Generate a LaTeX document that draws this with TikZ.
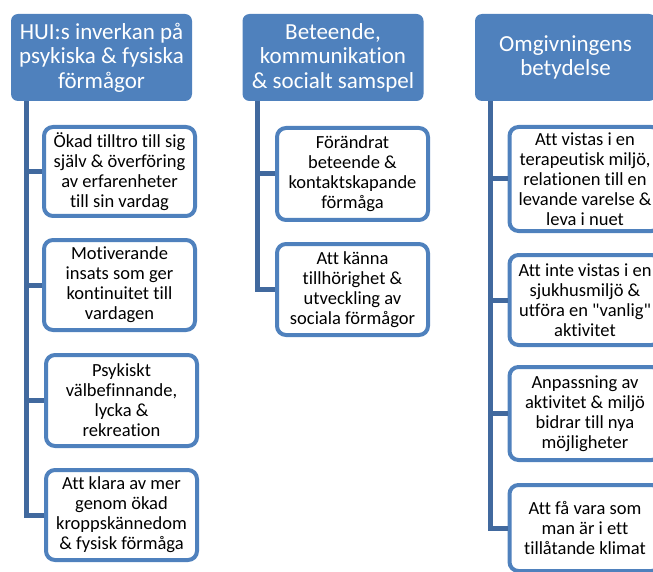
\documentclass[tikz,border=0pt]{standalone}
\usepackage{fontspec}
\setmainfont{Carlito}[Ligatures={NoCommon,TeXOff}]
\definecolor{hdrblue}{HTML}{4F81BD}
\definecolor{lineblue}{HTML}{41699E}
\begin{document}
\begin{tikzpicture}[x=1pt,y=-1pt,
  hdr/.style={fill=hdrblue, draw=none, rounded corners=7pt, text=white, align=center,
    minimum width=181pt, minimum height=87pt, inner sep=1pt,
    font=\fontsize{23}{24.5}\selectfont},
  kid/.style={fill=white, draw=hdrblue, line width=4pt, rounded corners=9pt, align=center,
    minimum width=151pt, inner sep=1pt, text=black,
    font=\fontsize{18.5}{20}\selectfont},
  conn/.style={draw=lineblue, line width=5pt}
]
\useasboundingbox (0,0) rectangle (653,572);
\clip (0,0) rectangle (653,572);

% column 1
\node[hdr] (h1) at (101.5,57.5) {HUI:s inverkan på\\psykiska \& fysiska\\förmågor};
\node[kid, minimum height=89pt] (a1) at (119.5,171.5) {Ökad tilltro till sig\\själv \& överföring\\av erfarenheter\\till sin vardag};
\node[kid, minimum height=90pt] (a2) at (119.5,285) {Motiverande\\insats som ger\\kontinuitet till\\vardagen};
\node[kid, minimum height=91pt] (a3) at (121.5,400.5) {Psykiskt\\välbefinnande,\\lycka \&\\rekreation};
\node[kid, minimum height=90pt] (a4) at (121.5,515) {Att klara av mer\\genom ökad\\kroppskännedom\\\& fysisk förmåga};
\foreach \c in {a1,a2,a3,a4}
  \draw[conn] ([xshift=15.5pt]h1.south west) |- (\c.west);

% column 2
\node[hdr] (h2) at (333,57.5) {Beteende,\\kommunikation\\\& socialt samspel};
\node[kid, minimum height=92pt] (b1) at (352.5,174) {Förändrat\\beteende \&\\kontaktskapande\\förmåga};
\node[kid, minimum height=91pt] (b2) at (352.5,289.5) {Att känna\\tillhörighet \&\\utveckling av\\sociala förmågor};
\foreach \c in {b1,b2}
  \draw[conn] ([xshift=15.5pt]h2.south west) |- (\c.west);

% column 3
\node[hdr] (h3) at (565.5,57.5) {Omgivningens\\betydelse};
\node[kid, minimum height=104pt] (c1) at (585,179) {Att vistas i en\\terapeutisk miljö,\\relationen till en\\levande varelse \&\\leva i nuet};
\node[kid, minimum height=90pt] (c2) at (585,300) {Att inte vistas i en\\sjukhusmiljö \&\\utföra en "vanlig"\\aktivitet};
\node[kid, minimum height=93pt] (c3) at (585,413.5) {Anpassning av\\aktivitet \& miljö\\bidrar till nya\\möjligheter};
\node[kid, minimum height=86pt] (c4) at (585,528) {Att få vara som\\man är i ett\\tillåtande klimat};
\foreach \c in {c1,c2,c3,c4}
  \draw[conn] ([xshift=15.5pt]h3.south west) |- (\c.west);
\end{tikzpicture}
\end{document}
